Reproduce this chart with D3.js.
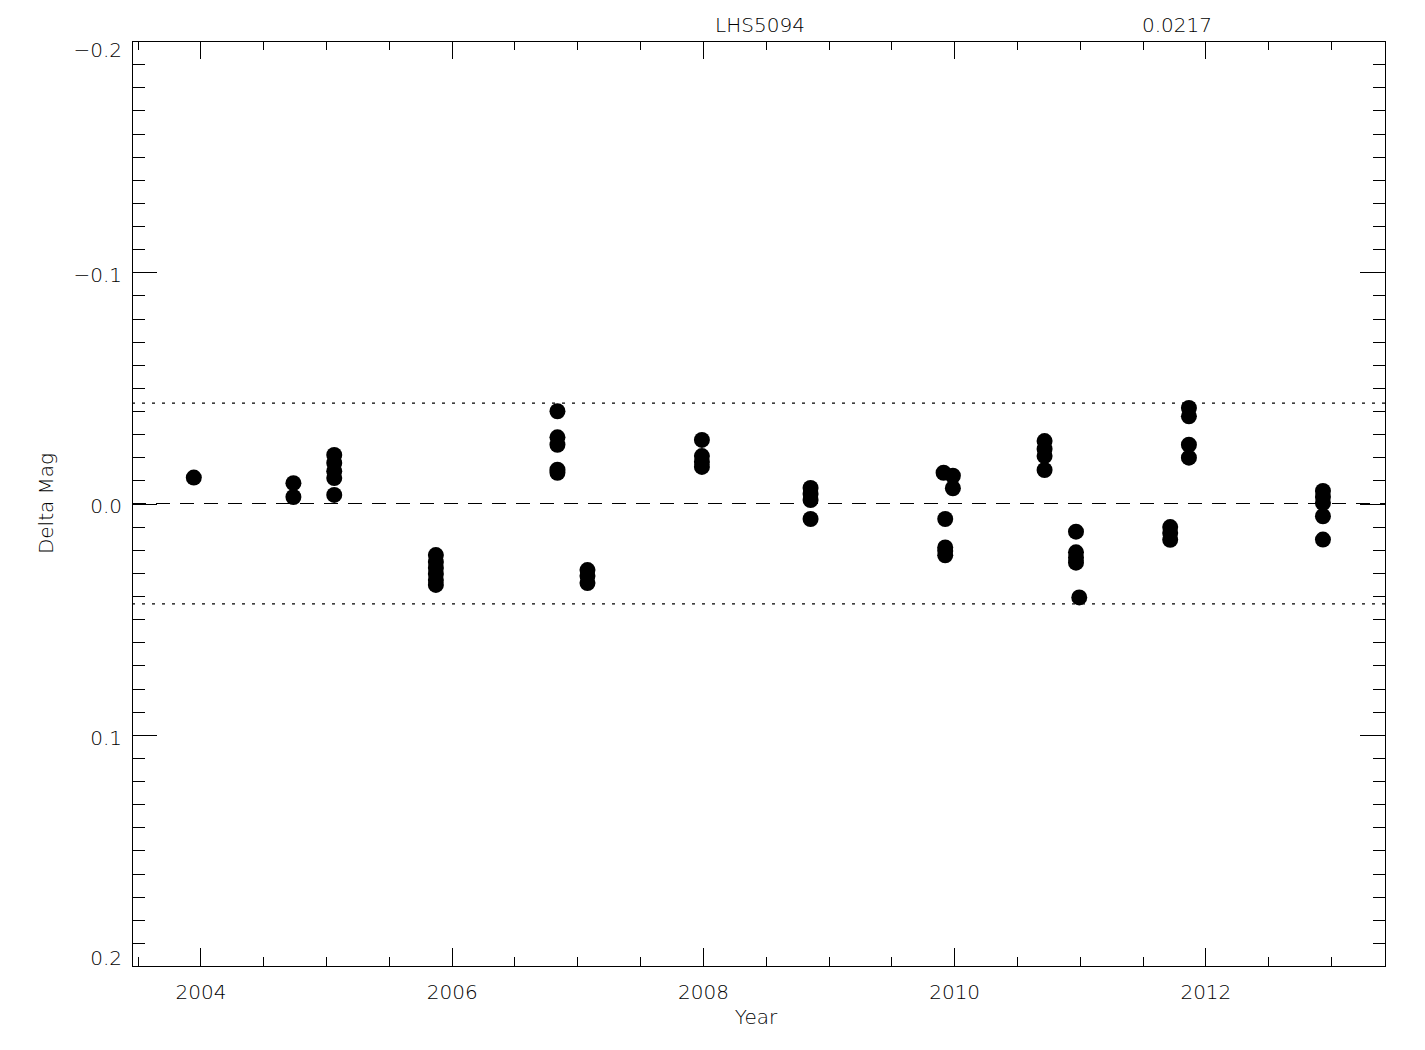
<!DOCTYPE html>
<html>
<head>
<meta charset="utf-8">
<script src="https://cdn.jsdelivr.net/npm/d3@7"></script>
<style>
body { margin: 0; background: #fff; }
text { font-family: "DejaVu Sans", sans-serif; font-weight: 200; fill: #000; }
.axis path, .axis line { stroke: #000; stroke-width: 1; shape-rendering: crispEdges; }
</style>
</head>
<body>
<div id="chart"></div>
<script>
// frame epochs (decimal year) and delta mag of each frame
var years = [
  2003.947,
  2004.740, 2004.740,
  2005.065, 2005.065, 2005.065, 2005.065, 2005.065,
  2005.874, 2005.874, 2005.874, 2005.874, 2005.874, 2005.874,
  2006.842, 2006.842, 2006.842, 2006.842, 2006.842,
  2007.081, 2007.081, 2007.081,
  2007.992, 2007.992, 2007.992, 2007.992,
  2008.857, 2008.857, 2008.857, 2008.857,
  2009.916, 2009.929, 2009.929, 2009.929, 2009.929, 2009.990, 2009.990,
  2010.720, 2010.720, 2010.720, 2010.720,
  2010.970, 2010.970, 2010.970, 2010.970, 2010.996,
  2011.720, 2011.720, 2011.720,
  2011.869, 2011.869, 2011.869, 2011.869,
  2012.936, 2012.936, 2012.936, 2012.936, 2012.936
];
var dmag = [
  -0.0112,
  -0.0088, -0.0028,
  -0.0210, -0.0175, -0.0140, -0.0110, -0.0037,
  0.0223, 0.0253, 0.0279, 0.0305, 0.0331, 0.0352,
  -0.0399, -0.0286, -0.0254, -0.0146, -0.0133,
  0.0288, 0.0314, 0.0344,
  -0.0275, -0.0205, -0.0180, -0.0158,
  -0.0067, -0.0041, -0.0015, 0.0067,
  -0.0133, 0.0067, 0.0190, 0.0205, 0.0224, -0.0120, -0.0066,
  -0.0270, -0.0236, -0.0205, -0.0145,
  0.0122, 0.0211, 0.0235, 0.0256, 0.0406,
  0.0102, 0.0128, 0.0157,
  -0.0413, -0.0377, -0.0254, -0.0198,
  -0.0054, -0.0028, -0.0002, 0.0055, 0.0156
];
var xMajor = [2004, 2006, 2008, 2010, 2012];
var xMinor = [2003.5, 2004, 2004.5, 2005, 2005.5, 2006, 2006.5, 2007, 2007.5, 2008,
              2008.5, 2009, 2009.5, 2010, 2010.5, 2011, 2011.5, 2012, 2012.5, 2013];
var yMajor = [-0.2, -0.1, 0.0, 0.1, 0.2];
var yMinor = d3.range(-20, 21).map(function(k){ return k / 100; });
var starName = "LHS5094";
var sigma = 0.0217;

var W = 1425, H = 1050;
var pLeft = 132, pRight = 1385, pTop = 41, pBottom = 966;

var svg = d3.select("#chart").append("svg")
  .attr("width", W).attr("height", H);
svg.append("rect").attr("width", W).attr("height", H).attr("fill", "#fff");

var x = d3.scaleLinear().domain([2003.455, 2013.43]).range([pLeft, pRight]);
var y = d3.scaleLinear().domain([-0.2, 0.2]).range([pTop, pBottom]);

var fmtY = d3.format(".1f");
var xLen = 18, yLen = 25;

// bottom axis, ticks point inward
svg.append("g").attr("class", "axis")
  .attr("transform", "translate(0," + pBottom + ")")
  .call(d3.axisBottom(x).tickValues(xMinor).tickSizeInner(-xLen / 2).tickSizeOuter(0).tickFormat(""));
svg.append("g").attr("class", "axis")
  .attr("transform", "translate(0," + pBottom + ")")
  .call(d3.axisBottom(x).tickValues(xMajor).tickSizeInner(-xLen).tickSizeOuter(0)
        .tickPadding(19).tickFormat(d3.format("d")))
  .selectAll("text").style("font-size", "20px");

// top axis
svg.append("g").attr("class", "axis")
  .attr("transform", "translate(0," + pTop + ")")
  .call(d3.axisTop(x).tickValues(xMinor).tickSizeInner(-xLen / 2).tickSizeOuter(0).tickFormat(""));
svg.append("g").attr("class", "axis")
  .attr("transform", "translate(0," + pTop + ")")
  .call(d3.axisTop(x).tickValues(xMajor).tickSizeInner(-xLen).tickSizeOuter(0).tickFormat(""));

// left axis
svg.append("g").attr("class", "axis")
  .attr("transform", "translate(" + pLeft + ",0)")
  .call(d3.axisLeft(y).tickValues(yMinor).tickSizeInner(-yLen / 2).tickSizeOuter(0).tickFormat(""));
svg.append("g").attr("class", "axis")
  .attr("transform", "translate(" + pLeft + ",0)")
  .call(d3.axisLeft(y).tickValues(yMajor).tickSizeInner(-yLen).tickSizeOuter(0)
        .tickPadding(10).tickFormat(fmtY))
  .selectAll("text").style("font-size", "20px")
  .attr("dy", "0.32em")
  .attr("y", function(d){
    // end labels sit inside the box, the rest slightly below their tick
    if (d === -0.2) return 9;
    if (d === 0.2) return -8;
    return 3;
  });

// right axis
svg.append("g").attr("class", "axis")
  .attr("transform", "translate(" + pRight + ",0)")
  .call(d3.axisRight(y).tickValues(yMinor).tickSizeInner(-yLen / 2).tickSizeOuter(0).tickFormat(""));
svg.append("g").attr("class", "axis")
  .attr("transform", "translate(" + pRight + ",0)")
  .call(d3.axisRight(y).tickValues(yMajor).tickSizeInner(-yLen).tickSizeOuter(0).tickFormat(""));

svg.selectAll(".axis .domain").attr("stroke", "#000");

// zero line and +-2 sigma lines
svg.append("line")
  .attr("x1", pLeft).attr("x2", pRight)
  .attr("y1", y(0)).attr("y2", y(0))
  .attr("stroke", "#000").attr("stroke-width", 1.2)
  .attr("stroke-dasharray", "14,10");
[-2 * sigma, 2 * sigma].forEach(function(v){
  svg.append("line")
    .attr("x1", pLeft).attr("x2", pRight)
    .attr("y1", y(v)).attr("y2", y(v))
    .attr("stroke", "#000").attr("stroke-width", 1.2)
    .attr("stroke-dasharray", "3,7");
});

// points
svg.selectAll(".dot")
  .data(years)
  .enter().append("circle")
  .attr("class", "dot")
  .attr("cx", function(d){ return x(d); })
  .attr("cy", function(d, i){ return y(dmag[i]); })
  .attr("r", 8)
  .attr("fill", "#000");

// titles
svg.append("text").attr("x", 760).attr("y", 32)
  .attr("text-anchor", "middle").style("font-size", "20px").text(starName);
svg.append("text").attr("x", 1177).attr("y", 32)
  .attr("text-anchor", "middle").style("font-size", "20px").text(sigma.toFixed(4));
svg.append("text").attr("x", 756).attr("y", 1024)
  .attr("text-anchor", "middle").style("font-size", "20px").text("Year");
svg.append("text")
  .attr("transform", "translate(53," + y(0) + ") rotate(-90)")
  .attr("text-anchor", "middle").style("font-size", "20px").text("Delta Mag");
</script>
</body>
</html>
